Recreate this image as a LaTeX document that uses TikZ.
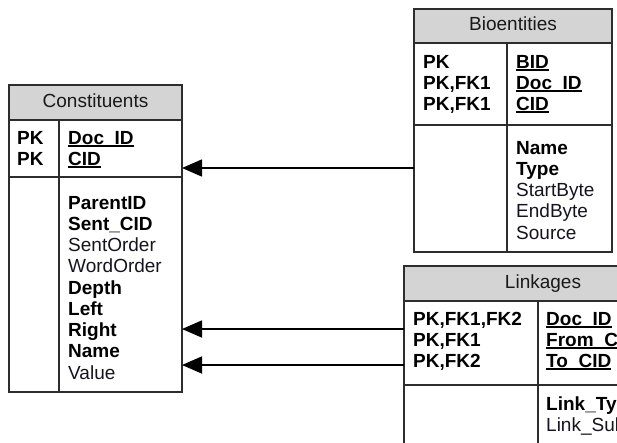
\documentclass[tikz,border=0pt]{standalone}
\usepackage{fontspec}
\setmainfont{Liberation Sans}
\usetikzlibrary{arrows.meta}
\definecolor{hdrgray}{RGB}{212,212,212}
\definecolor{linegray}{RGB}{45,45,45}
\definecolor{txtreg}{RGB}{20,20,30}
\newcommand\kul[1]{\setbox0\hbox{#1}\rlap{\rule[-2.6pt]{\wd0}{1.6pt}}\box0}
\begin{document}
\begin{tikzpicture}[x=1pt,y=-1pt,
  font=\fontsize{19}{21.3}\selectfont,
  sect/.style={draw=linegray, line width=1.2pt, anchor=north west, inner sep=0pt, outer sep=0pt, text height=13pt, text depth=4pt},
  hdr/.style={sect, fill=hdrgray, text=black!90},
  divider/.style={draw=linegray, line width=1.2pt},
  fld/.style={anchor=base west, inner sep=0pt, font=\fontsize{19}{21.3}\selectfont\bfseries, text=black},
  fldr/.style={anchor=base west, inner sep=0pt, font=\fontsize{19}{21.3}\selectfont, text=txtreg},
  arr/.style={draw=black, line width=1.6pt, -{Triangle[length=20pt,width=17pt]}}]
\useasboundingbox (0,0) rectangle (617,442);
\clip (0,0) rectangle (617,442);

% ---------- Constituents ----------
\node[hdr, minimum width=173pt, minimum height=35pt] (conH) at (9,85) {Constituents};
\node[sect, minimum width=173pt, minimum height=57pt] (conK) at (9,120) {};
\node[sect, minimum width=173pt, minimum height=215pt] (conA) at (9,177) {};
\draw[divider] ([xshift=50pt]conK.north west) -- ([xshift=50pt]conA.south west);
\node[fld] (conp1) at (17,144) {PK};
\node[fld] (conp2) at (17,165) {PK};
\node[fld] (conk1) at (68,144) {\kul{Doc\_ID}};
\node[fld] (conk2) at (68,165) {\kul{CID}};
\foreach \t/\s [count=\i] in {ParentID/fld, Sent\_CID/fld, SentOrder/fldr, WordOrder/fldr, Depth/fld, Left/fld, Right/fld, Name/fld, Value/fldr}
  \node[\s] (cona\i) at (68,{209+21.25*(\i-1)}) {\t};

% ---------- Bioentities ----------
\node[hdr, minimum width=198pt, minimum height=34pt] (bioH) at (414,9) {Bioentities};
\node[sect, minimum width=198pt, minimum height=82pt] (bioK) at (414,43) {};
\node[sect, minimum width=198pt, minimum height=127pt] (bioA) at (414,125) {};
\draw[divider] ([xshift=93pt]bioK.north west) -- ([xshift=93pt]bioA.south west);
\node[fld] (biop1) at (423,68) {PK};
\node[fld] (biop2) at (423,89) {PK,FK1};
\node[fld] (biop3) at (423,110) {PK,FK1};
\node[fld] (biok1) at (516,68) {\kul{BID}};
\node[fld] (biok2) at (516,89) {\kul{Doc\_ID}};
\node[fld] (biok3) at (516,110) {\kul{CID}};
\foreach \t/\s [count=\i] in {Name/fld, Type/fld, StartByte/fldr, EndByte/fldr, Source/fldr}
  \node[\s] (bioa\i) at (516,{154+21.25*(\i-1)}) {\t};

% ---------- Linkages ----------
\node[hdr, minimum width=278pt, minimum height=35pt] (linH) at (404,266) {Linkages};
\node[sect, minimum width=278pt, minimum height=84pt] (linK) at (404,301) {};
\node[sect, minimum width=278pt, minimum height=90pt] (linA) at (404,385) {};
\draw[divider] ([xshift=134pt]linK.north west) -- ([xshift=134pt]linA.south west);
\node[fld] (linp1) at (413,325) {PK,FK1,FK2};
\node[fld] (linp2) at (413,346) {PK,FK1};
\node[fld] (linp3) at (413,367) {PK,FK2};
\node[fld] (link1) at (546,325) {\kul{Doc\_ID}};
\node[fld] (link2) at (546,346) {\kul{From\_CID}};
\node[fld] (link3) at (546,367) {\kul{To\_CID}};
\node[fld] (lina1) at (546,410) {Link\_Type};
\node[fldr] (lina2) at (546,431) {Link\_Subtype};

% ---------- Connectors ----------
\draw[arr] (bioA.west |- 0,168) -- (conK.east |- 0,168);
\draw[arr] (linK.west |- 0,329) -- (conA.east |- 0,329);
\draw[arr] (linK.west |- 0,365) -- (conA.east |- 0,365);
\end{tikzpicture}
\end{document}
